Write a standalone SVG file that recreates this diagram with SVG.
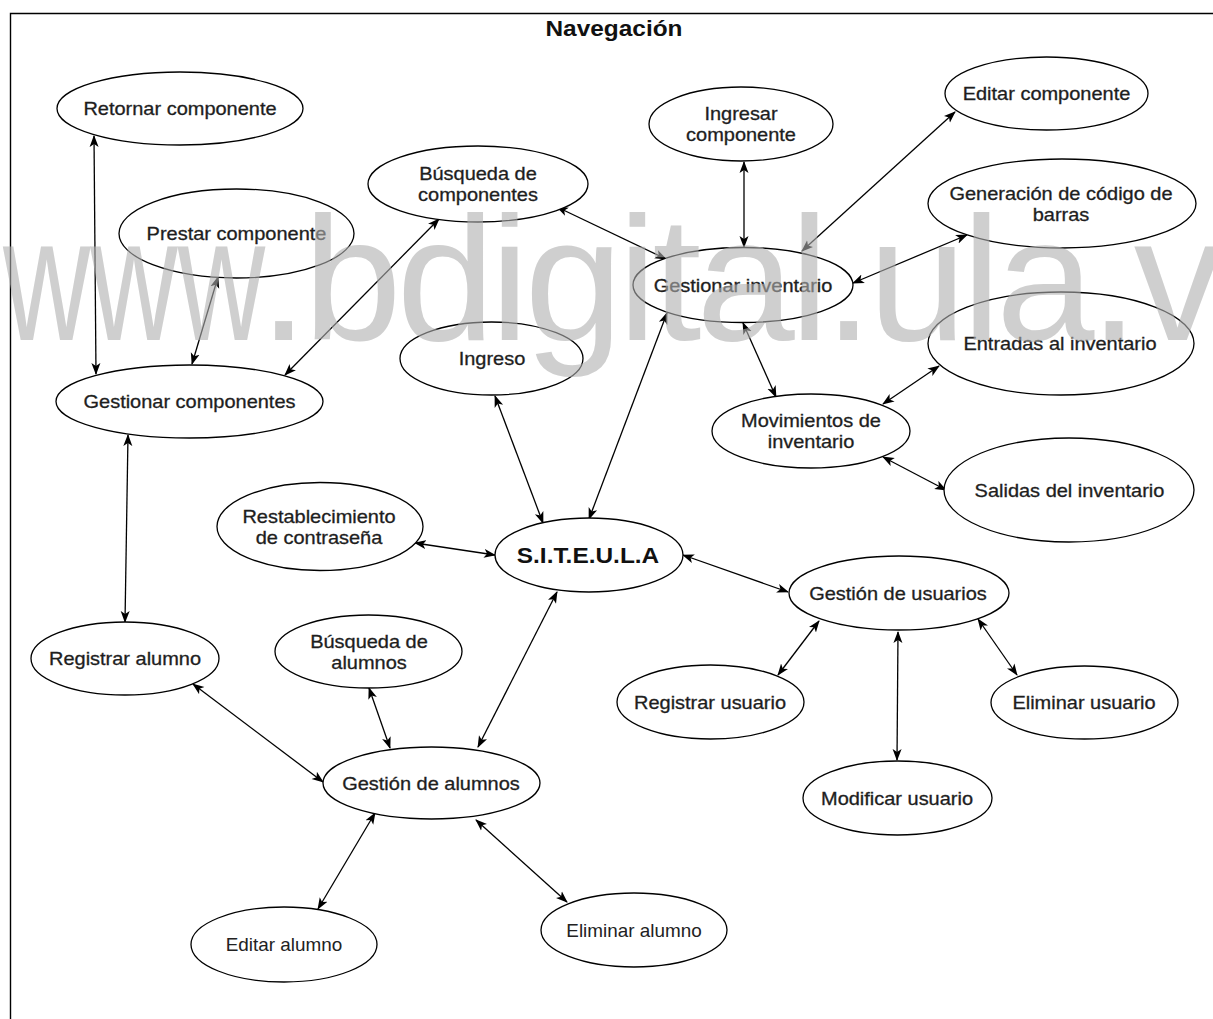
<svg xmlns="http://www.w3.org/2000/svg" width="1213" height="1019" viewBox="0 0 1213 1019">
  <style>
    .node ellipse { fill: #ffffff; stroke: #000000; stroke-width: 1.3; }
    .lbl { font-family: "Liberation Sans", Arial, sans-serif; font-size: 18px; fill: #1e1e1e; stroke: #1e1e1e; stroke-width: 0.3; text-anchor: middle; }
    .thin { font-family: "Liberation Sans", Arial, sans-serif; font-size: 18px; fill: #222222; text-anchor: middle; }
    .big { font-family: "Liberation Sans", Arial, sans-serif; font-size: 22px; font-weight: bold; fill: #111111; text-anchor: middle; }
    .edges line { stroke: #000000; stroke-width: 1.3; marker-start: url(#arr); marker-end: url(#arr); }
    .mark { font-family: "Liberation Sans", Arial, sans-serif; font-size: 177px; fill: #b0b0b0; opacity: 0.6; }
  </style>
  <defs>
    <marker id="arr" viewBox="0 0 12 10" refX="11" refY="5" markerWidth="12" markerHeight="10" markerUnits="userSpaceOnUse" orient="auto-start-reverse">
      <path d="M0,0.5 L12,5 L0,9.5 L3,5 Z" fill="#000000"/>
    </marker>
  </defs>

  <rect width="1213" height="1019" fill="#ffffff"/>
  <!-- frame (continues past the right and bottom edges) -->
  <path d="M10.5,1019 L10.5,13.5 L1213,13.5" fill="none" stroke="#000000" stroke-width="1.4"/>

  <text class="big" transform="translate(614,36) scale(1.11,1)">Navegación</text>

  <g class="edges">
    <line x1="94" y1="136" x2="96" y2="374"/>
    <line x1="218" y1="277" x2="192" y2="364"/>
    <line x1="439" y1="219" x2="285" y2="375"/>
    <line x1="557" y1="207" x2="666" y2="259"/>
    <line x1="744" y1="162" x2="744" y2="247"/>
    <line x1="955" y1="112" x2="802" y2="251"/>
    <line x1="967" y1="235" x2="853" y2="283"/>
    <line x1="743" y1="323" x2="776" y2="397"/>
    <line x1="939" y1="366" x2="883" y2="404"/>
    <line x1="883" y1="457" x2="946" y2="490"/>
    <line x1="495" y1="396" x2="543" y2="523"/>
    <line x1="667" y1="313" x2="589" y2="519"/>
    <line x1="415" y1="543" x2="495" y2="555"/>
    <line x1="683" y1="555" x2="788" y2="592"/>
    <line x1="557" y1="592" x2="478" y2="747"/>
    <line x1="819" y1="621" x2="778" y2="675"/>
    <line x1="898" y1="632" x2="897" y2="760"/>
    <line x1="978" y1="619" x2="1017" y2="675"/>
    <line x1="128" y1="435" x2="125" y2="622"/>
    <line x1="193" y1="684" x2="323" y2="782"/>
    <line x1="369" y1="688" x2="390" y2="748"/>
    <line x1="375" y1="813" x2="318" y2="909"/>
    <line x1="476" y1="820" x2="567" y2="902"/>
  </g>

  <g id="retornar-componente" class="node">
    <ellipse cx="180" cy="108.5" rx="123" ry="36.5"/>
    <text class="lbl" transform="translate(180,115) scale(1.11,1)">Retornar componente</text>
  </g>
  <g id="prestar-componente" class="node">
    <ellipse cx="236.5" cy="233.5" rx="117.5" ry="44.5"/>
    <text class="lbl" transform="translate(236.5,240) scale(1.11,1)">Prestar componente</text>
  </g>
  <g id="gestionar-componentes" class="node">
    <ellipse cx="189.5" cy="401.5" rx="133.5" ry="36.5"/>
    <text class="lbl" transform="translate(189.5,408) scale(1.11,1)">Gestionar componentes</text>
  </g>
  <g id="busqueda-componentes" class="node">
    <ellipse cx="478" cy="184" rx="110" ry="38"/>
    <text class="lbl" transform="translate(478,180) scale(1.11,1)">Búsqueda de</text>
    <text class="lbl" transform="translate(478,201) scale(1.11,1)">componentes</text>
  </g>
  <g id="ingresar-componente" class="node">
    <ellipse cx="741" cy="124" rx="92" ry="37"/>
    <text class="lbl" transform="translate(741,120) scale(1.11,1)">Ingresar</text>
    <text class="lbl" transform="translate(741,141) scale(1.11,1)">componente</text>
  </g>
  <g id="editar-componente" class="node">
    <ellipse cx="1046.5" cy="93.5" rx="101.5" ry="36.5"/>
    <text class="lbl" transform="translate(1046.5,100) scale(1.11,1)">Editar componente</text>
  </g>
  <g id="generacion-codigo" class="node">
    <ellipse cx="1062" cy="203.5" rx="134" ry="44.5"/>
    <text class="lbl" transform="translate(1061,199.5) scale(1.11,1)">Generación de código de</text>
    <text class="lbl" transform="translate(1061,220.5) scale(1.11,1)">barras</text>
  </g>
  <g id="gestionar-inventario" class="node">
    <ellipse cx="743" cy="285" rx="110" ry="37.5"/>
    <text class="lbl" transform="translate(743,291.5) scale(1.11,1)">Gestionar inventario</text>
  </g>
  <g id="ingreso" class="node">
    <ellipse cx="491.5" cy="358.5" rx="91.5" ry="36.5"/>
    <text class="lbl" transform="translate(492,365) scale(1.11,1)">Ingreso</text>
  </g>
  <g id="movimientos-inventario" class="node">
    <ellipse cx="811" cy="431" rx="99" ry="37"/>
    <text class="lbl" transform="translate(811,427) scale(1.11,1)">Movimientos de</text>
    <text class="lbl" transform="translate(811,448) scale(1.11,1)">inventario</text>
  </g>
  <g id="entradas-inventario" class="node">
    <ellipse cx="1061" cy="343.5" rx="133" ry="51.5"/>
    <text class="lbl" transform="translate(1060,350) scale(1.11,1)">Entradas al inventario</text>
  </g>
  <g id="salidas-inventario" class="node">
    <ellipse cx="1069" cy="490" rx="125" ry="52"/>
    <text class="lbl" transform="translate(1069.5,496.5) scale(1.11,1)">Salidas del inventario</text>
  </g>
  <g id="restablecimiento-contrasena" class="node">
    <ellipse cx="320" cy="526.5" rx="103" ry="44"/>
    <text class="lbl" transform="translate(319,522.5) scale(1.11,1)">Restablecimiento</text>
    <text class="lbl" transform="translate(319,543.5) scale(1.11,1)">de contraseña</text>
  </g>
  <g id="siteula" class="node">
    <ellipse cx="589" cy="555" rx="94" ry="37"/>
    <text class="big" transform="translate(588,563) scale(1.11,1)">S.I.T.E.U.L.A</text>
  </g>
  <g id="gestion-usuarios" class="node">
    <ellipse cx="899" cy="593" rx="110" ry="37"/>
    <text class="lbl" transform="translate(898,599.5) scale(1.11,1)">Gestión de usuarios</text>
  </g>
  <g id="registrar-usuario" class="node">
    <ellipse cx="710.5" cy="702" rx="93.5" ry="37"/>
    <text class="lbl" transform="translate(710,708.5) scale(1.11,1)">Registrar usuario</text>
  </g>
  <g id="eliminar-usuario" class="node">
    <ellipse cx="1084.5" cy="702.5" rx="93.5" ry="36.5"/>
    <text class="lbl" transform="translate(1084,709) scale(1.11,1)">Eliminar usuario</text>
  </g>
  <g id="modificar-usuario" class="node">
    <ellipse cx="897.5" cy="798" rx="94.5" ry="37"/>
    <text class="lbl" transform="translate(897,804.5) scale(1.11,1)">Modificar usuario</text>
  </g>
  <g id="registrar-alumno" class="node">
    <ellipse cx="125" cy="658.5" rx="94" ry="36.5"/>
    <text class="lbl" transform="translate(125,665) scale(1.11,1)">Registrar alumno</text>
  </g>
  <g id="busqueda-alumnos" class="node">
    <ellipse cx="368.5" cy="651.5" rx="93.5" ry="36.5"/>
    <text class="lbl" transform="translate(369,647.5) scale(1.11,1)">Búsqueda de</text>
    <text class="lbl" transform="translate(369,668.5) scale(1.11,1)">alumnos</text>
  </g>
  <g id="gestion-alumnos" class="node">
    <ellipse cx="431.5" cy="783" rx="108.5" ry="36"/>
    <text class="lbl" transform="translate(431,789.5) scale(1.11,1)">Gestión de alumnos</text>
  </g>
  <g id="editar-alumno" class="node">
    <ellipse cx="284" cy="944.5" rx="93" ry="37.5"/>
    <text class="thin" transform="translate(284,951) scale(1.05,1)">Editar alumno</text>
  </g>
  <g id="eliminar-alumno" class="node">
    <ellipse cx="634" cy="930" rx="93" ry="37"/>
    <text class="thin" transform="translate(634,936.5) scale(1.05,1)">Eliminar alumno</text>
  </g>

  <!-- repository watermark laid over the drawing -->
  <text class="mark" x="3" y="340" textLength="262" lengthAdjust="spacingAndGlyphs">www</text>
  <text class="mark" x="259" y="340" letter-spacing="-5">.bdigital.ula.ve</text>
</svg>
